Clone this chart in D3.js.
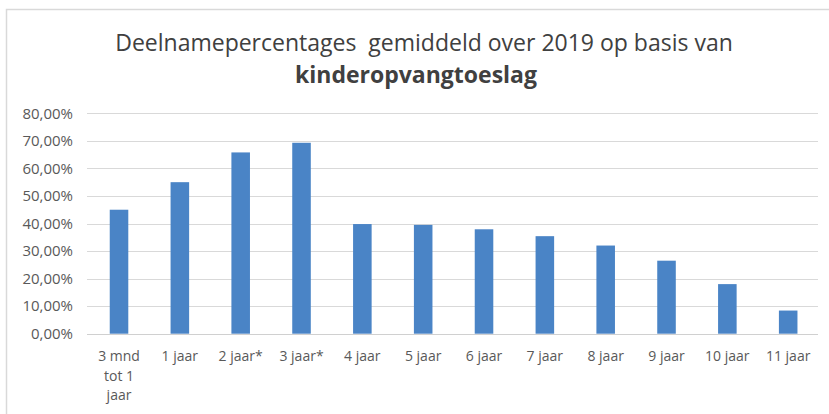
<!DOCTYPE html>
<html><head><meta charset="utf-8">
<script src="https://cdn.jsdelivr.net/npm/d3@7"></script>
<style>
html,body{margin:0;padding:0;background:#fff;}
svg{display:block;}
</style></head>
<body>
<svg id="chart" width="829" height="414"></svg>
<script>
const categories = ["3 mnd\ntot 1\njaar", "1 jaar", "2 jaar*", "3 jaar*", "4 jaar", "5 jaar", "6 jaar", "7 jaar", "8 jaar", "9 jaar", "10 jaar", "11 jaar"];
const values = [45.0, 55.0, 65.8, 69.3, 39.8, 39.5, 37.9, 35.4, 32.0, 26.5, 18.0, 8.4];
const yTicks = [0, 10, 20, 30, 40, 50, 60, 70, 80];
const titleLine1 = "Deelnamepercentages  gemiddeld over 2019 op basis van";
const titleLine2 = "kinderopvangtoeslag";

const svg = d3.select("#chart");
const font = "'Open Sans', 'Noto Sans', sans-serif";
const textColor = "#595959";

// frame
svg.append("rect").attr("x", 6.5).attr("y", 9.5).attr("width", 840).attr("height", 420)
  .attr("fill", "none").attr("stroke", "#d9d9d9").attr("stroke-width", 1.5);

const x = d3.scaleBand().domain(categories).range([88, 818]).paddingInner(0).paddingOuter(0);
const y = d3.scaleLinear().domain([0, 80]).range([333.7, 113.3]);

// gridlines
svg.append("g").selectAll("line").data(yTicks).join("line")
  .attr("x1", 87).attr("x2", 818)
  .attr("y1", d => Math.round(y(d)) + 0.5).attr("y2", d => Math.round(y(d)) + 0.5)
  .attr("stroke", "#d9d9d9").attr("stroke-width", 1);

// y axis labels
const yAxis = d3.axisLeft(y).tickValues(yTicks).tickSize(0).tickPadding(0)
  .tickFormat(d => d3.format(".2f")(d).replace(".", ",") + "%");
const gy = svg.append("g").attr("transform", "translate(73,0)").call(yAxis);
gy.select(".domain").remove();
gy.selectAll("text").attr("fill", textColor).style("font-family", font).style("font-size", "15px");

// bars
const bw = x.step() * 0.305;
svg.append("g").selectAll("rect").data(values).join("rect")
  .attr("x", (d, i) => x(categories[i]) + x.bandwidth() / 2 - bw / 2 + 0.6)
  .attr("y", d => y(d))
  .attr("width", bw)
  .attr("height", d => y(0) - y(d))
  .attr("fill", "#4a84c6");

// baseline
svg.append("line").attr("x1", 87).attr("x2", 818).attr("y1", 334.5).attr("y2", 334.5)
  .attr("stroke", "#d0d0d0").attr("stroke-width", 1);

// x labels
const gx = svg.append("g");
categories.forEach(c => {
  const t = gx.append("text")
    .attr("x", x(c) + x.bandwidth() / 2 + 0.6)
    .attr("y", 361)
    .attr("text-anchor", "middle")
    .attr("fill", textColor)
    .style("font-family", font).style("font-size", "14px");
  c.split("\n").forEach((ln, k) => {
    t.append("tspan").attr("x", x(c) + x.bandwidth() / 2 + 0.6).attr("dy", k === 0 ? 0 : 19.5).text(ln);
  });
});

// title
svg.append("text").attr("x", 424).attr("y", 51).attr("text-anchor", "middle")
  .attr("fill", "#404040").style("font-family", font).style("font-size", "23px")
  .style("white-space", "pre").attr("xml:space", "preserve")
  .text(titleLine1);
svg.append("text").attr("x", 416).attr("y", 83).attr("text-anchor", "middle")
  .attr("fill", "#404040").style("font-family", font).style("font-size", "23px").style("font-weight", "bold")
  .text(titleLine2);
</script>
</body></html>
